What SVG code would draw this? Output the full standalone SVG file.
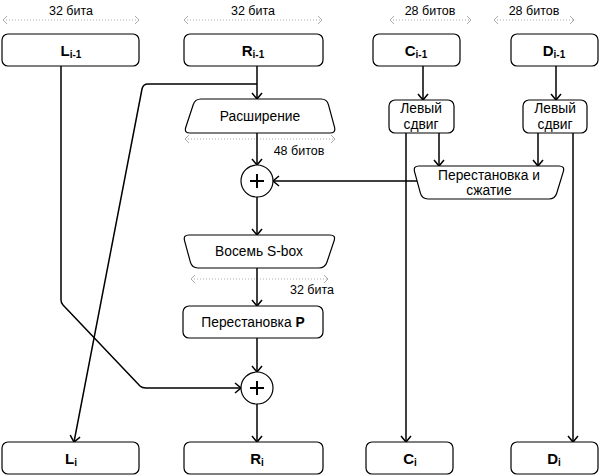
<svg xmlns="http://www.w3.org/2000/svg" width="600" height="476" viewBox="0 0 600 476">
<defs>
<marker id="arr" markerUnits="userSpaceOnUse" markerWidth="14" markerHeight="14" viewBox="-8 -7 10 14" refX="0" refY="0" orient="auto">
<path d="M-6,-5 L0,0 L-6,5" fill="none" stroke="#000" stroke-width="1.5"/>
</marker>
<marker id="ga" markerUnits="userSpaceOnUse" markerWidth="10" markerHeight="10" viewBox="-6 -5 8 10" refX="0" refY="0" orient="auto-start-reverse">
<path d="M-4,-4 L0,0 L-4,4" fill="none" stroke="#aaa" stroke-width="1"/>
</marker>
</defs>
<style>
.box{fill:#fff;stroke:#000;stroke-width:1.2}
.t{font-family:"Liberation Sans",Arial,sans-serif;font-size:13.8px;fill:#000;text-anchor:middle}
.lbl{font-family:"Liberation Sans",Arial,sans-serif;font-size:12.5px;fill:#000;text-anchor:middle}
.b{font-family:"Liberation Sans",Arial,sans-serif;font-size:15px;font-weight:bold;fill:#000;text-anchor:middle}
.sub{font-size:10px}
.c{fill:none;stroke:#000;stroke-width:1.5;stroke-linejoin:round}
.dot{fill:none;stroke:#aaa;stroke-width:1;stroke-dasharray:1 2}
</style>
<g id="bitlabels">
<line class="dot" x1="3" y1="20" x2="139" y2="20" marker-start="url(#ga)" marker-end="url(#ga)"/>
<text class="lbl" x="71" y="15">32 бита</text>
<line class="dot" x1="184" y1="20" x2="322" y2="20" marker-start="url(#ga)" marker-end="url(#ga)"/>
<text class="lbl" x="253" y="15">32 бита</text>
<line class="dot" x1="390" y1="20" x2="471" y2="20" marker-start="url(#ga)" marker-end="url(#ga)"/>
<text class="lbl" x="430" y="15">28 битов</text>
<line class="dot" x1="494" y1="20" x2="574" y2="20" marker-start="url(#ga)" marker-end="url(#ga)"/>
<text class="lbl" x="534" y="15">28 битов</text>
<line class="dot" x1="185" y1="139" x2="335" y2="139" marker-start="url(#ga)" marker-end="url(#ga)"/>
<text class="lbl" x="299" y="155">48 битов</text>
<line class="dot" x1="191" y1="279" x2="328" y2="279" marker-start="url(#ga)" marker-end="url(#ga)"/>
<text class="lbl" x="312" y="294">32 бита</text>
</g>
<g id="connectors">
<path class="c" d="M257,66 V99" marker-end="url(#arr)"/>
<path class="c" d="M257,84 H148 Q143,84 142,89 L74,442" marker-end="url(#arr)"/>
<path class="c" d="M257,133 V165" marker-end="url(#arr)"/>
<path class="c" d="M257,197 V235" marker-end="url(#arr)"/>
<path class="c" d="M257,268 V306" marker-end="url(#arr)"/>
<path class="c" d="M257,338 V372" marker-end="url(#arr)"/>
<path class="c" d="M257,404 V442" marker-end="url(#arr)"/>
<path class="c" d="M417,181 H273" marker-end="url(#arr)"/>
<path class="c" d="M61,66 V300 Q61,303 63,305 L140,386 Q142,388 146,388 H241" marker-end="url(#arr)"/>
<path class="c" d="M423,66 V100" marker-end="url(#arr)"/>
<path class="c" d="M556,66 V100" marker-end="url(#arr)"/>
<path class="c" d="M406,133 V442" marker-end="url(#arr)"/>
<path class="c" d="M439,133 V166" marker-end="url(#arr)"/>
<path class="c" d="M538,133 V166" marker-end="url(#arr)"/>
<path class="c" d="M573,133 V442" marker-end="url(#arr)"/>
</g>
<g id="L_prev"><rect class="box" x="2" y="34" width="137" height="32" rx="6"/><text class="b" x="71" y="56">L<tspan class="sub" dy="2">i-1</tspan></text></g>
<g id="R_prev"><rect class="box" x="184" y="34" width="139" height="32" rx="6"/><text class="b" x="253" y="56">R<tspan class="sub" dy="2">i-1</tspan></text></g>
<g id="C_prev"><rect class="box" x="373" y="34" width="87" height="32" rx="6"/><text class="b" x="416" y="56">C<tspan class="sub" dy="2">i-1</tspan></text></g>
<g id="D_prev"><rect class="box" x="511" y="34" width="87" height="32" rx="6"/><text class="b" x="554" y="56">D<tspan class="sub" dy="2">i-1</tspan></text></g>
<g id="expansion"><path class="box" d="M201,99 L321,99 Q327,99 328.5,104.8 L334.5,127.2 Q336,133 330,133 L190,133 Q184,133 185.8,127.3 L193.2,104.7 Q195,99 201,99 Z"/><text class="t" x="260" y="121">Расширение</text></g>
<g id="shiftC"><rect class="box" x="389" y="100" width="65" height="33" rx="6"/><text class="t" x="421" y="113">Левый</text><text class="t" x="421" y="129">сдвиг</text></g>
<g id="shiftD"><rect class="box" x="523" y="100" width="64" height="33" rx="6"/><text class="t" x="555" y="113">Левый</text><text class="t" x="555" y="129">сдвиг</text></g>
<g id="xor1"><circle class="box" cx="257" cy="181" r="16"/><path d="M250,181 H264 M257,174 V188" stroke="#000" stroke-width="2"/></g>
<g id="compress"><path class="box" d="M419,166 L559,166 Q565,166 563.3,171.7 L556.7,193.3 Q555,199 549,199 L428,199 Q422,199 420.4,193.2 L414.6,171.8 Q413,166 419,166 Z"/><text class="t" x="489" y="180">Перестановка и</text><text class="t" x="489" y="195">сжатие</text></g>
<g id="sbox"><path class="box" d="M189,235 L330,235 Q336,235 334.1,240.7 L326.9,262.3 Q325,268 319,268 L198,268 Q192,268 190.4,262.2 L184.6,240.8 Q183,235 189,235 Z"/><text class="t" x="259" y="256">Восемь S-box</text></g>
<g id="permP"><rect class="box" x="183" y="306" width="140" height="32" rx="6"/><text class="t" x="253" y="327">Перестановка <tspan font-weight="bold">P</tspan></text></g>
<g id="xor2"><circle class="box" cx="257" cy="388" r="16"/><path d="M250,388 H264 M257,381 V395" stroke="#000" stroke-width="2"/></g>
<g id="L_i"><rect class="box" x="2" y="442" width="137" height="32" rx="6"/><text class="b" x="71" y="464">L<tspan class="sub" dy="2">i</tspan></text></g>
<g id="R_i"><rect class="box" x="184" y="442" width="139" height="32" rx="6"/><text class="b" x="257" y="464">R<tspan class="sub" dy="2">i</tspan></text></g>
<g id="C_i"><rect class="box" x="366" y="442" width="87" height="32" rx="6"/><text class="b" x="410" y="464">C<tspan class="sub" dy="2">i</tspan></text></g>
<g id="D_i"><rect class="box" x="511" y="442" width="87" height="32" rx="6"/><text class="b" x="554" y="464">D<tspan class="sub" dy="2">i</tspan></text></g>
</svg>
